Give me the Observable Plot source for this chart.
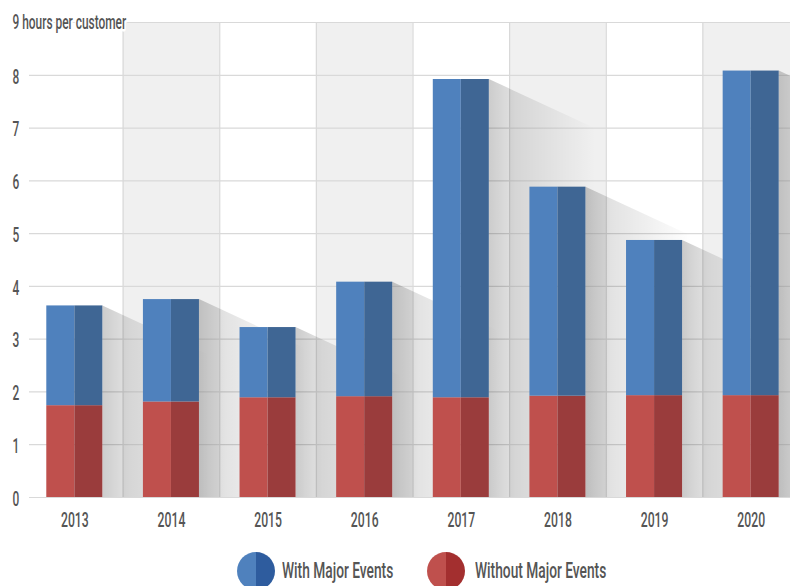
<!DOCTYPE html>
<html><head><meta charset="utf-8">
<script src="https://cdn.jsdelivr.net/npm/d3@7"></script>
<script src="https://cdn.jsdelivr.net/npm/@observablehq/plot@0.6"></script>
<style>
body{margin:0;background:#fff;font-family:Roboto,"Liberation Sans",sans-serif;}
#chart{position:relative;width:790px;height:586px;overflow:hidden;background:#fff}
#chart svg{position:absolute;left:0;top:0}
#chart svg text{font-weight:500}
.dot{position:absolute;width:38px;height:38px;border-radius:50%;top:552px}
.lab{position:absolute;font-size:22px;font-weight:500;line-height:24px;top:559px;color:#555;transform:scaleX(0.625);transform-origin:left center;white-space:nowrap}
</style></head>
<body><div id="chart"></div>
<script>
const years = [2013, 2014, 2015, 2016, 2017, 2018, 2019, 2020];
const withMajor = [3.63, 3.75, 3.22, 4.08, 7.92, 5.88, 4.87, 8.08];
const withoutMajor = [1.74, 1.81, 1.89, 1.91, 1.89, 1.92, 1.93, 1.93];
const yTicks = [0, 1, 2, 3, 4, 5, 6, 7, 8];
const yTitle = "9 hours per customer";
const yTitleValue = 9;
const legendLabels = ["With Major Events", "Without Major Events"];

const C = {
  blueL: "#4f81bd", blueD: "#3f6694",
  redL: "#bf504d", redD: "#9a3c3c",
  legBlueD: "#2e5c9e", legRedD: "#a32f2f",
  band: "#f0f0f0", grid: "#d9d9d9", text: "#555"
};

const rows = years.map((year, i) => ({year, total: withMajor[i], base: withoutMajor[i]}));
const half = 0.29, L = 1.1, k = 0.85;
const shadowPts = rows.flatMap(d => [
  {year: d.year, x: d.year + half, y: d.total},
  {year: d.year, x: d.year + half + L, y: d.total - L * k}
]);

const defs = () => {
  const el = d3.create("svg:defs");
  const g = el.append("linearGradient").attr("id", "shadowGrad")
    .attr("x1", 0).attr("x2", 1).attr("y1", 0).attr("y2", 0);
  g.append("stop").attr("offset", 0).attr("stop-color", "#000").attr("stop-opacity", 0.2);
  g.append("stop").attr("offset", 0.25).attr("stop-color", "#000").attr("stop-opacity", 0.11);
  g.append("stop").attr("offset", 1).attr("stop-color", "#000").attr("stop-opacity", 0);
  return el.node();
};

const plot = Plot.plot({
  width: 790, height: 540,
  marginLeft: 29, marginRight: 0, marginTop: 22, marginBottom: 43,
  x: {type: "linear", domain: [2012.5, 2020.5], range: [26, 799]},
  y: {domain: [0, 9], axis: null},
  style: {fontFamily: "Roboto, 'Liberation Sans', sans-serif", fontSize: "18px", color: C.text, background: "white"},
  marks: [
    defs,
    Plot.rect(rows.filter((d, i) => i % 2 === 1), {x1: d => d.year - 0.5, x2: d => d.year + 0.5, y1: 0, y2: 9, fill: C.band}),
    Plot.ruleY([...yTicks, yTitleValue], {stroke: C.grid, strokeWidth: 1.2}),
    Plot.ruleX(years.slice(0, -1), {x: d => d + 0.5, y1: 0, y2: 9, stroke: C.grid, strokeWidth: 1.2}),
    Plot.areaY(shadowPts, {x: "x", y1: 0, y2: "y", z: "year", fill: "url(#shadowGrad)"}),
    Plot.rect(rows, {x1: d => d.year - half, x2: d => d.year, y1: 0, y2: "base", fill: C.redL}),
    Plot.rect(rows, {x1: d => d.year, x2: d => d.year + half, y1: 0, y2: "base", fill: C.redD}),
    Plot.rect(rows, {x1: d => d.year - half, x2: d => d.year, y1: "base", y2: "total", fill: C.blueL}),
    Plot.rect(rows, {x1: d => d.year, x2: d => d.year + half, y1: "base", y2: "total", fill: C.blueD}),
    Plot.axisX({ticks: years, tickFormat: d => String(d), tickSize: 0, tickPadding: 15, fontSize: 20, label: null}),
    Plot.text(yTicks, {y: d => d, text: d => String(d), frameAnchor: "left", dx: -17, dy: 2, textAnchor: "start", fontSize: 19.5, fill: C.text}),
    Plot.text([yTitleValue], {y: d => d, text: () => yTitle, frameAnchor: "left", dx: -17, dy: 0, textAnchor: "start", fontSize: 19.5, fill: C.text, stroke: "white", strokeWidth: 5, paintOrder: "stroke"})
  ]
});

const chart = document.getElementById("chart");
chart.appendChild(plot);

// condense text glyphs horizontally (narrow typeface look)
d3.select(plot).selectAll("text").each(function() {
  const w = this.getComputedTextLength();
  if (w > 0) {
    this.setAttribute("textLength", (w * 0.61).toFixed(2));
    this.setAttribute("lengthAdjust", "spacingAndGlyphs");
  }
});

const legendItems = [
  {label: legendLabels[0], l: C.blueL, d: C.legBlueD, dotX: 237, textX: 282},
  {label: legendLabels[1], l: C.redL, d: C.legRedD, dotX: 427, textX: 475}
];
for (const it of legendItems) {
  const dot = document.createElement("div");
  dot.className = "dot";
  dot.style.left = it.dotX + "px";
  dot.style.background = `linear-gradient(to right, ${it.l} 50%, ${it.d} 50%)`;
  chart.appendChild(dot);
  const lab = document.createElement("div");
  lab.className = "lab";
  lab.style.left = it.textX + "px";
  lab.textContent = it.label;
  chart.appendChild(lab);
}
</script>
</body></html>
